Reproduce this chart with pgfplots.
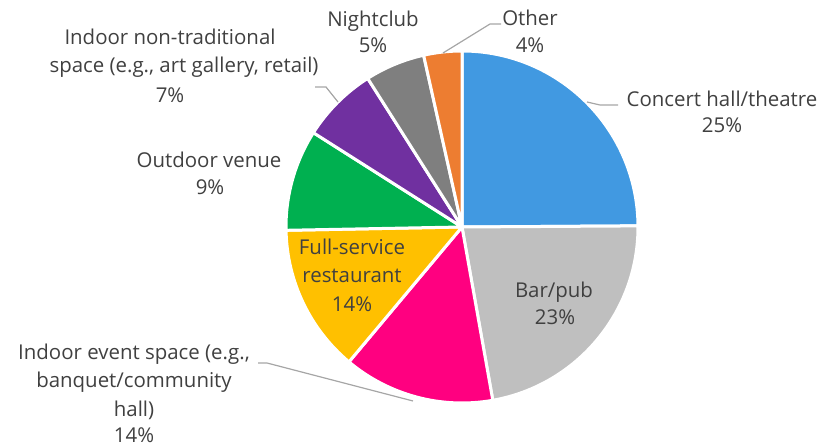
\documentclass[border=0pt]{standalone}
\usepackage{pgfplots}
\usepackage{pgfplotstable}
\pgfplotsset{compat=1.18}
\usepackage{fontspec}
\setmainfont{Open Sans}

\definecolor{cBlue}{HTML}{4199E1}
\definecolor{cGray}{HTML}{BFBFBF}
\definecolor{cPink}{HTML}{FF0080}
\definecolor{cYellow}{HTML}{FFC000}
\definecolor{cGreen}{HTML}{00B050}
\definecolor{cPurple}{HTML}{7030A0}
\definecolor{cDark}{HTML}{7F7F7F}
\definecolor{cOrange}{HTML}{ED7D31}
\definecolor{cText}{HTML}{404040}
\definecolor{cLead}{HTML}{A6A6A6}

% slice shares (percent), clockwise from 12 o'clock
\pgfplotstableread[col sep=comma]{
value,col
24.9,cBlue
22.3,cGray
13.9,cPink
13.6,cYellow
9.3,cGreen
7.0,cPurple
5.5,cDark
3.5,cOrange
}\piedata

\begin{document}
\begin{tikzpicture}
\begin{axis}[x=1bp,y=1bp,xmin=0,xmax=825,ymin=0,ymax=448,
  hide axis,scale only axis,clip=false]
\path (axis cs:0,0) rectangle (axis cs:825,448);
\pgfplotsextra{%
  \pgfplotstablegetrowsof{\piedata}%
  \pgfmathtruncatemacro\lastrow{\pgfplotsretval-1}%
  \xdef\cumsum{0}%
  \foreach \i in {0,...,\lastrow}{%
    \pgfplotstablegetelem{\i}{value}\of\piedata \let\sliceval\pgfplotsretval
    \pgfplotstablegetelem{\i}{col}\of\piedata \let\slicecol\pgfplotsretval
    \pgfmathsetmacro\sa{90-3.6*\cumsum}%
    \pgfmathsetmacro\ea{90-3.6*(\cumsum+\sliceval)}%
    \fill[fill=\slicecol, draw=white, line width=3bp, line join=round]
      (axis cs:462,221) -- ([shift={(\sa:176bp)}]axis cs:462,221)
      arc[start angle=\sa,end angle=\ea,radius=176bp] -- cycle;
    \pgfmathsetmacro\newcum{\cumsum+\sliceval}%
    \xdef\cumsum{\newcum}%
  }%
}
% leader lines
\draw[cLead, line width=1.2bp] (axis cs:443,395) -- (axis cs:490,424) -- (axis cs:501,424);
\draw[cLead, line width=1.2bp] (axis cs:587,346) -- (axis cs:600,343) -- (axis cs:618,343);
\draw[cLead, line width=1.2bp] (axis cs:315,361) -- (axis cs:326,361) -- (axis cs:338,346);
\draw[cLead, line width=1.2bp] (axis cs:258,85) -- (axis cs:267,85) -- (axis cs:413,47);
% labels
\tikzset{lbl/.style={anchor=base, inner sep=0pt, text=cText, font=\fontsize{20.5}{24}\selectfont}}
\node[lbl] at (axis cs:373,421) {Nightclub};
\node[lbl] at (axis cs:373,395) {5\%};
\node[lbl] at (axis cs:530,422) {Other};
\node[lbl] at (axis cs:530,395) {4\%};
\node[lbl] at (axis cs:722,341) {Concert hall/theatre};
\node[lbl] at (axis cs:722,315) {25\%};
\node[lbl] at (axis cs:554,150) {Bar/pub};
\node[lbl] at (axis cs:555,123) {23\%};
\node[lbl] at (axis cs:352,193) {Full-service};
\node[lbl] at (axis cs:352,165) {restaurant};
\node[lbl] at (axis cs:352,136) {14\%};
\node[lbl] at (axis cs:209,280) {Outdoor venue};
\node[lbl] at (axis cs:210,253) {9\%};
\node[lbl] at (axis cs:170,403) {Indoor non-traditional};
\node[lbl] at (axis cs:184,375) {space (e.g., art gallery, retail)};
\node[lbl] at (axis cs:170,345) {7\%};
\node[lbl] at (axis cs:134,88) {Indoor event space (e.g.,};
\node[lbl] at (axis cs:134,60) {banquet/community};
\node[lbl] at (axis cs:134,31) {hall)};
\node[lbl] at (axis cs:134,5) {14\%};
\end{axis}
\end{tikzpicture}
\end{document}
